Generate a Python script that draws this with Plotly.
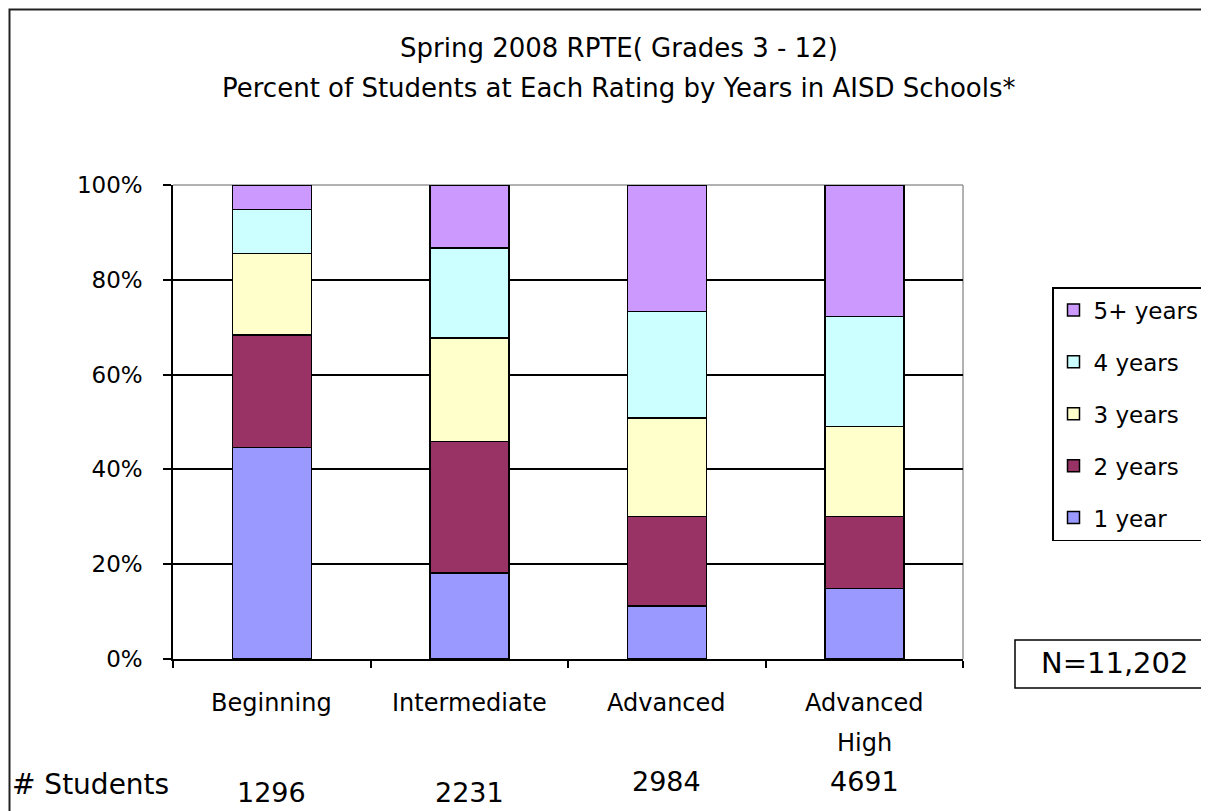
import plotly.graph_objects as go

categories = ["Beginning", "Intermediate", "Advanced", "Advanced<br>High"]
series_names = ["1 year", "2 years", "3 years", "4 years", "5+ years"]
one_year = [44.6, 18.1, 11.2, 14.9]
two_years = [23.8, 27.8, 18.9, 15.2]
three_years = [17.1, 21.8, 20.7, 19.0]
four_years = [9.3, 19.0, 22.5, 23.2]
five_plus_years = [5.2, 13.3, 26.7, 27.7]
student_counts = ["1296", "2231", "2984", "4691"]
total_label = "N=11,202"
title_lines = ["Spring 2008 RPTE( Grades 3 - 12)",
               "Percent of Students at Each Rating by Years in AISD Schools*"]
y_ticks = [0, 20, 40, 60, 80, 100]

colors = ["#9999FF", "#993366", "#FFFFCC", "#CCFFFF", "#CC99FF"]
series_values = [one_year, two_years, three_years, four_years, five_plus_years]

FONT = "DejaVu Sans"
OFF = 8  # page body margin
W, H = 1209 - OFF, 811 - OFF
# plot area in page pixels
L, R, T, B = 173, 963, 185, 659
pw, ph = R - L, B - T

def px(x):
    return (x - L) / pw

def py(y):
    return (B - y) / ph

x_idx = list(range(len(categories)))

fig = go.Figure()
n = len(series_names)
for i, (name, vals, col) in enumerate(zip(series_names, series_values, colors)):
    fig.add_trace(go.Bar(
        x=x_idx, y=vals, name=name, width=0.4,
        marker=dict(color=col, line=dict(color="black", width=1.5)),
        legendgroup=name, legendrank=n - i,
    ))

count_y = [792, 792, 781, 781]

annotations = []
for j, line in enumerate(title_lines):
    annotations.append(dict(text=line, xref="paper", yref="paper", x=px(619), y=py(48 + 40 * j),
                            xanchor="center", yanchor="middle", showarrow=False,
                            font=dict(family=FONT, size=26, color="black")))
for i, cat in enumerate(categories):
    for k, part in enumerate(cat.split("<br>")):
        annotations.append(dict(text=part, xref="x", yref="paper", x=i, y=py(703 + 40 * k),
                                xanchor="center", yanchor="middle", showarrow=False,
                                font=dict(family=FONT, size=24, color="black")))
    annotations.append(dict(text=student_counts[i], xref="x", yref="paper", x=i, y=py(count_y[i]),
                            xanchor="center", yanchor="middle", showarrow=False,
                            font=dict(family=FONT, size=27, color="black")))
annotations.append(dict(text="# Students", xref="paper", yref="paper", x=px(10), y=py(784),
                        xanchor="left", yanchor="middle", showarrow=False,
                        font=dict(family=FONT, size=28, color="black")))
annotations.append(dict(text=total_label, xref="paper", yref="paper", x=px(1114), y=py(663),
                        xanchor="center", yanchor="middle", showarrow=False,
                        font=dict(family=FONT, size=29, color="black")))

shapes = [
    # outer chart frame
    dict(type="rect", xref="paper", yref="paper", x0=px(9.5), x1=px(1240), y0=py(840), y1=py(9.5),
         line=dict(color="#222222", width=2), layer="below"),
    # N box
    dict(type="rect", xref="paper", yref="paper", x0=px(1015), x1=px(1240), y0=py(688), y1=py(640),
         line=dict(color="black", width=1.5), fillcolor="white", layer="below"),
    # gray plot border top and right
    dict(type="line", xref="paper", yref="paper", x0=0, x1=1, y0=1, y1=1,
         line=dict(color="#999999", width=1.5), layer="between"),
    dict(type="line", xref="paper", yref="paper", x0=1, x1=1, y0=0, y1=1,
         line=dict(color="#999999", width=1.5), layer="between"),
]

fig.update_layout(
    width=W, height=H,
    margin=dict(l=L - OFF, r=(W + OFF) - R, t=T - OFF, b=(H + OFF) - B, pad=0, autoexpand=False),
    paper_bgcolor="white", plot_bgcolor="white",
    barmode="stack",
    font=dict(family=FONT, color="black"),
    showlegend=True,
    legend=dict(x=px(1052), y=py(287), xanchor="left", yanchor="top",
                traceorder="grouped", tracegroupgap=19,
                bordercolor="black", borderwidth=1.5, bgcolor="white",
                font=dict(family=FONT, size=23, color="black"),
                itemwidth=30),
    annotations=annotations,
    shapes=shapes,
)
fig.update_xaxes(
    type="linear", range=[-0.5, len(categories) - 0.5],
    tickvals=[i - 0.5 for i in range(len(categories) + 1)], ticktext=[""] * (len(categories) + 1),
    ticks="outside", ticklen=7, tickcolor="black", tickwidth=1.5,
    showline=True, linecolor="black", linewidth=1.5, showgrid=False, zeroline=False,
)
fig.update_yaxes(
    range=[0, 100], tickvals=y_ticks, ticktext=[f"{v}%" for v in y_ticks],
    ticks="outside", ticklen=8, tickcolor="black", tickwidth=1.5,
    showline=True, linecolor="black", linewidth=1.5,
    showgrid=True, gridcolor="black", gridwidth=1.5, zeroline=False,
    tickfont=dict(family=FONT, size=23, color="black"),
    ticklabelstandoff=16,
)

fig.write_html("out.html")
